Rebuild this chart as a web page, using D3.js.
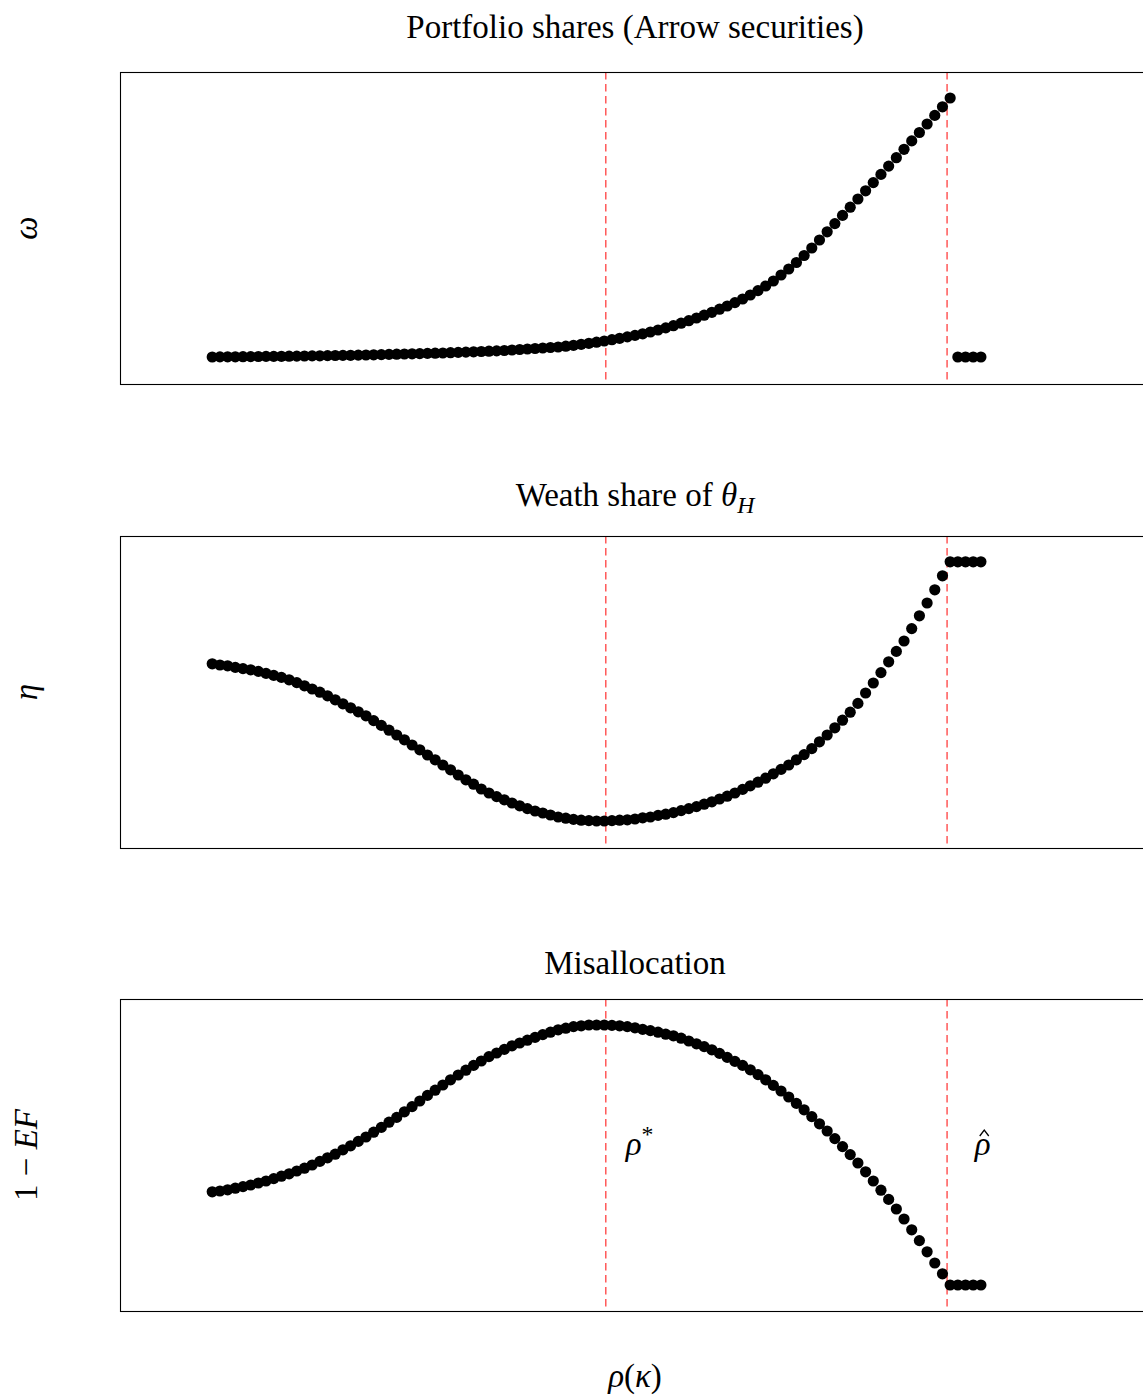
<!DOCTYPE html>
<html>
<head>
<meta charset="utf-8">
<script src="https://cdnjs.cloudflare.com/ajax/libs/d3/7.8.5/d3.min.js"></script>
<style>
  body { margin: 0; background: #fff; }
  svg { display: block; }
  text { font-family: "Liberation Serif", "DejaVu Serif", serif; fill: #000; }
</style>
</head>
<body>
<div id="chart"></div>
<script>

// --- data ------------------------------------------------------------------

var rho = [
  0.00,0.01,0.02,0.03,0.04,0.05,0.06,0.07,0.08,0.09,
  0.10,0.11,0.12,0.13,0.14,0.15,0.16,0.17,0.18,0.19,
  0.20,0.21,0.22,0.23,0.24,0.25,0.26,0.27,0.28,0.29,
  0.30,0.31,0.32,0.33,0.34,0.35,0.36,0.37,0.38,0.39,
  0.40,0.41,0.42,0.43,0.44,0.45,0.46,0.47,0.48,0.49,
  0.50,0.51,0.52,0.53,0.54,0.55,0.56,0.57,0.58,0.59,
  0.60,0.61,0.62,0.63,0.64,0.65,0.66,0.67,0.68,0.69,
  0.70,0.71,0.72,0.73,0.74,0.75,0.76,0.77,0.78,0.79,
  0.80,0.81,0.82,0.83,0.84,0.85,0.86,0.87,0.88,0.89,
  0.90,0.91,0.92,0.93,0.94,0.95,0.96,0.97,0.98,0.99,
  1.00
];

// portfolio share of Arrow securities
var omega = [
  0.000,0.001,0.002,0.002,0.003,0.004,0.005,0.006,0.006,0.007,
  0.008,0.009,0.010,0.011,0.012,0.014,0.015,0.016,0.017,0.019,
  0.020,0.022,0.024,0.026,0.028,0.030,0.032,0.034,0.036,0.038,
  0.040,0.043,0.046,0.049,0.052,0.055,0.058,0.061,0.065,0.070,
  0.075,0.080,0.085,0.090,0.095,0.100,0.108,0.117,0.127,0.137,
  0.148,0.160,0.173,0.187,0.201,0.216,0.232,0.250,0.270,0.291,
  0.313,0.338,0.363,0.390,0.418,0.447,0.478,0.510,0.544,0.580,
  0.620,0.664,0.710,0.760,0.820,0.880,0.945,1.015,1.090,1.170,
  1.252,1.334,1.416,1.498,1.580,1.662,1.744,1.826,1.909,1.993,
  2.077,2.161,2.245,2.330,2.416,2.502,2.590,0.000,0.000,0.000,
  0.000
];

// wealth share of theta_H
var eta = [
  0.493,0.490,0.488,0.484,0.481,0.478,0.474,0.469,0.464,0.459,
  0.453,0.446,0.438,0.430,0.422,0.413,0.403,0.393,0.383,0.373,
  0.363,0.351,0.339,0.327,0.315,0.303,0.290,0.278,0.265,0.253,
  0.240,0.228,0.215,0.203,0.192,0.180,0.170,0.161,0.153,0.145,
  0.138,0.131,0.125,0.120,0.115,0.110,0.107,0.104,0.102,0.101,
  0.100,0.100,0.101,0.102,0.103,0.105,0.108,0.110,0.114,0.117,
  0.121,0.126,0.131,0.136,0.142,0.148,0.155,0.162,0.170,0.179,
  0.188,0.197,0.207,0.218,0.229,0.240,0.253,0.266,0.281,0.298,
  0.315,0.333,0.352,0.372,0.394,0.420,0.445,0.471,0.498,0.524,
  0.550,0.581,0.613,0.645,0.678,0.713,0.748,0.748,0.748,0.748,
  0.748
];

// misallocation 1 - EF
var misalloc = [
  0.333,0.335,0.338,0.342,0.346,0.350,0.355,0.360,0.366,0.372,
  0.378,0.385,0.392,0.400,0.409,0.418,0.427,0.438,0.448,0.459,
  0.470,0.482,0.494,0.507,0.519,0.533,0.546,0.560,0.574,0.587,
  0.600,0.613,0.625,0.637,0.649,0.660,0.671,0.680,0.689,0.698,
  0.705,0.712,0.719,0.726,0.732,0.738,0.742,0.746,0.748,0.750,
  0.750,0.750,0.749,0.748,0.746,0.743,0.739,0.736,0.732,0.727,
  0.723,0.717,0.710,0.703,0.696,0.688,0.679,0.669,0.659,0.649,
  0.638,0.626,0.613,0.599,0.585,0.570,0.554,0.538,0.521,0.503,
  0.485,0.466,0.446,0.426,0.405,0.383,0.360,0.337,0.314,0.290,
  0.265,0.238,0.211,0.183,0.155,0.128,0.100,0.100,0.100,0.100,
  0.100
];

var rhoStar = 0.512;
var rhoHat = 0.956;

var panelTitles = ['Portfolio shares (Arrow securities)', 'Weath share of ', 'Misallocation'];
var xDomain = [-0.12, 1.22];
var yDomains = [[-0.27, 2.85], [0.0325, 0.8125], [0.035, 0.815]];

// --- layout ----------------------------------------------------------------

var Config = {
    Width: 1143,
    Height: 1397,
    Left: 120,
    Right: 1150,
    PanelTops: [72, 536, 999],
    TitleBase: [38, 506, 974],
    PanelHeight: 312,
    DotRadius: 5.6,
    FontSize: 33
};

var svg = d3.select('#chart').append('svg')
    .attr('width', Config.Width)
    .attr('height', Config.Height)
    .attr('viewBox', '0 0 ' + Config.Width + ' ' + Config.Height);

var x = d3.scaleLinear().domain(xDomain).range([Config.Left, Config.Right]);

var series = [omega, eta, misalloc];

function renderPanel(k) {
    var top = Config.PanelTops[k];
    var bottom = top + Config.PanelHeight;
    var y = d3.scaleLinear().domain(yDomains[k]).range([bottom, top]);

    var g = svg.append('g').attr('id', 'panel' + k);

    // dashed markers for rho* and rho hat
    g.selectAll('line.vline')
        .data([rhoStar, rhoHat])
        .enter().append('line')
        .attr('class', 'vline')
        .attr('x1', function (d) { return x(d); })
        .attr('x2', function (d) { return x(d); })
        .attr('y1', top)
        .attr('y2', bottom)
        .attr('stroke', '#ff0000')
        .attr('stroke-opacity', 0.7)
        .attr('stroke-width', 1.4)
        .attr('stroke-dasharray', '7.5,4.5');

    g.selectAll('circle')
        .data(series[k])
        .enter().append('circle')
        .attr('cx', function (d, i) { return x(rho[i]); })
        .attr('cy', function (d) { return y(d); })
        .attr('r', Config.DotRadius)
        .attr('fill', '#000');

    // frame
    g.append('rect')
        .attr('x', Config.Left + 0.5)
        .attr('y', top + 0.5)
        .attr('width', Config.Right - Config.Left)
        .attr('height', Config.PanelHeight)
        .attr('fill', 'none')
        .attr('stroke', '#000')
        .attr('stroke-width', 1.1);

    // title
    var title = g.append('text')
        .attr('x', (Config.Left + Config.Right) / 2)
        .attr('y', Config.TitleBase[k])
        .attr('text-anchor', 'middle')
        .attr('font-size', Config.FontSize)
        .text(panelTitles[k]);

    if (k === 1) {
        title.append('tspan').attr('font-style', 'italic').text('θ');
        title.append('tspan').attr('font-style', 'italic')
            .attr('font-size', Config.FontSize * 0.72).attr('dy', 7).text('H');
    }
    return y;
}

var yScales = [];
for (var k = 0; k < 3; k++) {
    yScales.push(renderPanel(k));
}

// y labels
function yLabel(k) {
    var cy = Config.PanelTops[k] + Config.PanelHeight / 2;
    return svg.append('text')
        .attr('transform', 'translate(37,' + cy + ') rotate(-90)')
        .attr('text-anchor', 'middle')
        .attr('font-size', Config.FontSize);
}

yLabel(0).append('tspan').attr('font-style', 'italic').text('ω');
yLabel(1).append('tspan').attr('font-style', 'italic').text('η');
var lab3 = yLabel(2);
lab3.append('tspan').text('1 − ');
lab3.append('tspan').attr('font-style', 'italic').text('EF');

// x label
var xl = svg.append('text')
    .attr('x', (Config.Left + Config.Right) / 2)
    .attr('y', 1387)
    .attr('text-anchor', 'middle')
    .attr('font-size', Config.FontSize);
xl.append('tspan').attr('font-style', 'italic').text('ρ');
xl.append('tspan').text('(');
xl.append('tspan').attr('font-style', 'italic').text('κ');
xl.append('tspan').text(')');

// annotations in the last panel
var annoY = 0.425;
var a1 = svg.append('text')
    .attr('x', x(rhoStar + 0.026))
    .attr('y', yScales[2](annoY))
    .attr('font-size', Config.FontSize);
a1.append('tspan').attr('font-style', 'italic').text('ρ');
a1.append('tspan').attr('font-size', Config.FontSize * 0.72).attr('dy', -13).text('*');

var hatX = x(rhoHat + 0.036);
var hatY = yScales[2](annoY);
svg.append('text')
    .attr('x', hatX)
    .attr('y', hatY)
    .attr('font-size', Config.FontSize)
    .attr('font-style', 'italic')
    .text('ρ');

// circumflex drawn as a small stroke over the rho
svg.append('path')
    .attr('d', 'M' + (hatX + 5) + ',' + (hatY - 19) +
               'L' + (hatX + 9.5) + ',' + (hatY - 25) +
               'L' + (hatX + 14) + ',' + (hatY - 19))
    .attr('fill', 'none')
    .attr('stroke', '#000')
    .attr('stroke-width', 1.3);

</script>
</body>
</html>
